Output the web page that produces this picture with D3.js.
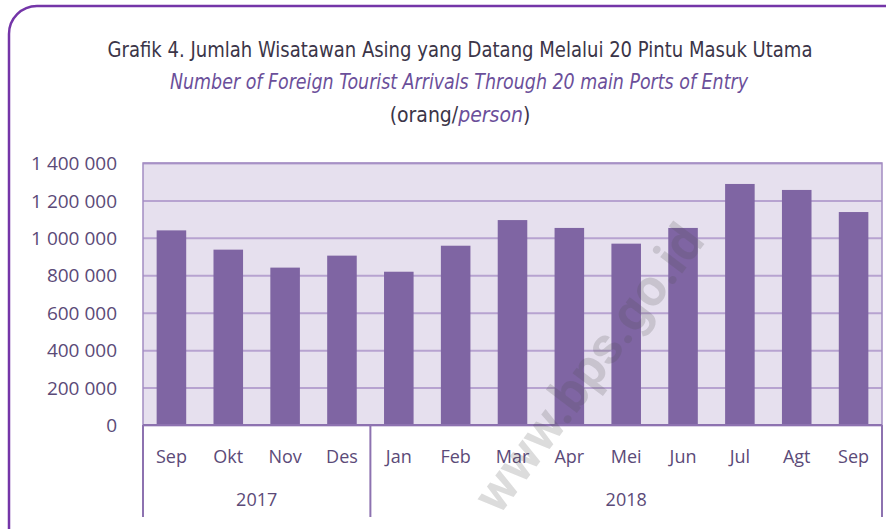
<!DOCTYPE html>
<html>
<head>
<meta charset="utf-8">
<script src="https://cdn.jsdelivr.net/npm/d3@7"></script>
<style>
  html, body { margin: 0; padding: 0; background: #fff; }
  svg { display: block; }
  .title { font-family: "Liberation Sans Narrow", "DejaVu Sans Condensed", "Open Sans", sans-serif; font-stretch: condensed; }
  .lbl { font-family: "Open Sans", "Noto Sans", sans-serif; }
</style>
</head>
<body>
<div id="chart"></div>
<script>
// Months shown on the x axis (Sep appears twice, so bands are keyed by index)
const months = ["Sep", "Okt", "Nov", "Des", "Jan", "Feb", "Mar", "Apr", "Mei", "Jun", "Jul", "Agt", "Sep"];
// Year groups: label and number of months in each
const years = ["2017", "2018"];
const yearCounts = [4, 9];
// Foreign tourist arrivals (persons)
const arrivals = [1040000, 937000, 841000, 905000, 819000, 958000, 1095000, 1053000, 969000, 1053000, 1288000, 1256000, 1138000];
const yTicks = [0, 200000, 400000, 600000, 800000, 1000000, 1200000, 1400000];

const W = 886, H = 529;
const margin = { top: 163, right: 4, bottom: 104, left: 143 };
const plotW = W - margin.left - margin.right;
const plotH = H - margin.top - margin.bottom;

const svg = d3.select("#chart").append("svg")
    .attr("width", W)
    .attr("height", H);

// rounded frame
svg.append("rect")
    .attr("x", 9).attr("y", 6)
    .attr("width", W + 40).attr("height", H + 40)
    .attr("rx", 28).attr("ry", 28)
    .attr("fill", "none")
    .attr("stroke", "#7435a8")
    .attr("stroke-width", 2.5);

// titles
svg.append("text")
    .attr("class", "title")
    .attr("x", 460).attr("y", 57)
    .attr("text-anchor", "middle")
    .attr("textLength", 705).attr("lengthAdjust", "spacingAndGlyphs")
    .style("font-size", "22px")
    .style("fill", "#3b3548")
    .text("Grafik 4. Jumlah Wisatawan Asing yang Datang Melalui 20 Pintu Masuk Utama");

svg.append("text")
    .attr("class", "title")
    .attr("x", 459).attr("y", 89)
    .attr("text-anchor", "middle")
    .attr("textLength", 578).attr("lengthAdjust", "spacingAndGlyphs")
    .style("font-size", "21px")
    .style("font-style", "italic")
    .style("fill", "#6b4f9a")
    .text("Number of Foreign Tourist Arrivals Through 20 main Ports of Entry");

const unit = svg.append("text")
    .attr("class", "title")
    .attr("x", 460).attr("y", 122)
    .attr("text-anchor", "middle")
    .style("font-size", "21px")
    .style("fill", "#3b3548");
unit.append("tspan").text("(orang/");
unit.append("tspan").style("font-style", "italic").style("fill", "#6b4f9a").text("person");
unit.append("tspan").text(")");

const g = svg.append("g")
    .attr("transform", `translate(${margin.left},${margin.top})`);

const x = d3.scaleBand()
    .domain(months.map((m, i) => i))
    .range([0, plotW])
    .paddingInner(0.48)
    .paddingOuter(0.24);

const y = d3.scaleLinear()
    .domain([0, 1400000])
    .range([plotH, 0]);

const fmt = d3.formatLocale({ decimal: ",", thousands: " ", grouping: [3], currency: ["", ""] }).format(",d");

// plot background
g.append("rect")
    .attr("width", plotW).attr("height", plotH)
    .attr("fill", "#e6e0ee");

// gridlines
g.append("g")
    .call(d3.axisLeft(y).tickValues(yTicks).tickSize(-plotW).tickFormat(""))
    .call(s => s.select(".domain").remove())
    .selectAll("line")
    .attr("stroke", "#b7a3d0")
    .attr("stroke-width", 2);

// y labels
g.append("g")
    .attr("transform", "translate(-23,0)")
    .call(d3.axisLeft(y).tickValues(yTicks).tickSize(0).tickFormat(fmt))
    .call(s => s.select(".domain").remove())
    .selectAll("text")
    .attr("class", "lbl")
    .attr("dy", "0.35em")
    .style("font-size", "19px")
    .style("fill", "#5b4a78");

// bars
g.selectAll(".bar")
    .data(arrivals)
    .join("rect")
    .attr("class", "bar")
    .attr("x", (d, i) => x(i))
    .attr("y", d => y(d))
    .attr("width", x.bandwidth())
    .attr("height", d => plotH - y(d))
    .attr("fill", "#7f65a3");

// plot frame (left, top, right)
g.append("rect")
    .attr("width", plotW).attr("height", plotH)
    .attr("fill", "none")
    .attr("stroke", "#a38cc2")
    .attr("stroke-width", 1.5);

// baseline
g.append("line")
    .attr("x1", 0).attr("x2", plotW)
    .attr("y1", plotH).attr("y2", plotH)
    .attr("stroke", "#8d72b0").attr("stroke-width", 2);

// month labels
g.append("g")
    .selectAll("text")
    .data(months)
    .join("text")
    .attr("class", "lbl")
    .attr("x", (d, i) => x(i) + x.bandwidth() / 2)
    .attr("y", plotH + 38)
    .attr("text-anchor", "middle")
    .style("font-size", "18px")
    .style("fill", "#5b4a78")
    .text(d => d);

// year groups with separators
const step = x.step();
let start = 0;
const groups = years.map((label, k) => {
    const grp = { label, from: start, to: start + yearCounts[k] };
    start += yearCounts[k];
    return grp;
});
const bx = i => i === months.length ? plotW : x(i) - (step - x.bandwidth()) / 2;

const seps = [0].concat(groups.map(d => d.to));
g.append("g")
    .selectAll("line")
    .data(seps)
    .join("line")
    .attr("x1", d => bx(d)).attr("x2", d => bx(d))
    .attr("y1", plotH).attr("y2", plotH + 92)
    .attr("stroke", "#8d72b0").attr("stroke-width", 2);

g.append("g")
    .selectAll("text")
    .data(groups)
    .join("text")
    .attr("class", "lbl")
    .attr("x", d => (bx(d.from) + bx(d.to)) / 2)
    .attr("y", plotH + 81)
    .attr("text-anchor", "middle")
    .style("font-size", "18px")
    .style("fill", "#5b4a78")
    .text(d => d.label);

// watermark
svg.append("text")
    .attr("transform", "translate(588,368) rotate(-53)")
    .attr("text-anchor", "middle")
    .attr("dy", "0.35em")
    .style("font-family", "Roboto, 'DejaVu Sans', sans-serif")
    .style("font-weight", "bold")
    .style("font-size", "52px")
    .style("fill", "rgba(80,80,80,0.2)")
    .text("www.bps.go.id");
</script>
</body>
</html>
